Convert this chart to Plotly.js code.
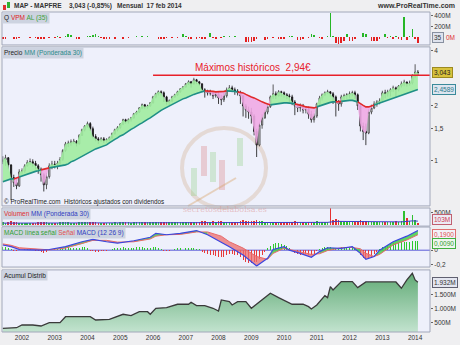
<!DOCTYPE html>
<html><head><meta charset="utf-8">
<script src="https://cdn.plot.ly/plotly-3.0.1.min.js"></script>
<style>html,body{margin:0;padding:0;background:#efeff1;}#chart{width:460px;height:345px;}</style>
</head><body><div id="chart"></div>
<script>
// ---------- DATA (monthly, June 2001 .. February 2014) ----------
const START_YEAR = 2001, START_MONTH = 6;
const firstOpen = 0.99;
const close = [
  1.01,1.04,0.95,0.81,0.76,0.73,0.87,
  0.88,0.94,0.98,0.99,0.97,0.94,0.90,0.84,0.74,0.82,0.94,0.96,
  0.95,0.97,1.02,1.14,1.24,1.25,1.27,1.28,1.24,1.38,1.48,1.55,
  1.60,1.50,1.36,1.32,1.29,1.32,1.29,1.31,1.34,1.41,1.48,1.52,
  1.59,1.68,1.64,1.68,1.72,1.81,1.85,1.95,2.03,1.98,2.00,2.08,
  2.24,2.33,2.39,2.36,2.24,2.10,2.13,2.24,2.30,2.39,2.48,2.54,
  2.64,2.71,2.64,2.78,2.71,2.64,2.45,2.39,2.36,2.36,2.27,2.33,
  2.21,2.16,2.27,2.45,2.51,2.45,2.41,2.36,2.27,2.00,1.90,1.85,
  1.76,1.45,1.22,1.57,1.72,1.85,1.98,2.24,2.33,2.27,2.39,2.36,
  2.30,2.27,2.24,2.10,2.00,1.95,1.98,1.90,1.92,1.80,1.68,1.76,
  2.05,2.21,2.30,2.36,2.39,2.33,2.24,2.10,2.05,2.24,2.27,2.30,
  2.33,2.36,2.30,2.00,1.55,1.45,1.42,1.85,1.95,2.05,2.10,2.13,
  2.36,2.33,2.39,2.45,2.51,2.45,2.57,2.64,2.70,2.64,2.67,2.92,
  3.06,3.043
];
const high = [
  1.06,1.08,1.05,0.96,0.84,0.80,0.90,
  0.91,0.96,1.01,1.03,1.02,1.00,0.96,0.92,0.86,0.86,0.97,1.00,
  1.00,1.00,1.05,1.16,1.27,1.29,1.31,1.32,1.30,1.40,1.50,1.57,
  1.64,1.63,1.54,1.40,1.35,1.35,1.35,1.33,1.36,1.43,1.50,1.55,
  1.61,1.70,1.70,1.71,1.74,1.83,1.88,1.97,2.06,2.05,2.03,2.10,
  2.27,2.36,2.43,2.43,2.40,2.27,2.17,2.27,2.33,2.42,2.50,2.57,
  2.67,2.76,2.74,2.85,2.81,2.74,2.66,2.50,2.45,2.45,2.40,2.38,
  2.40,2.30,2.36,2.52,2.60,2.58,2.52,2.47,2.42,2.30,2.05,1.98,
  1.95,1.80,1.50,1.62,1.80,1.90,2.05,2.28,2.62,2.40,2.44,2.42,
  2.40,2.35,2.33,2.30,2.15,2.05,2.06,2.05,1.99,1.98,1.88,1.82,
  2.08,2.27,2.34,2.40,2.45,2.41,2.38,2.28,2.15,2.30,2.33,2.35,
  2.40,2.42,2.42,2.34,2.05,1.62,1.60,1.92,2.03,2.12,2.15,2.20,
  2.42,2.45,2.45,2.50,2.58,2.55,2.60,2.72,2.78,2.72,2.75,2.98,
  3.38,3.14
];
const low = [
  0.96,0.94,0.90,0.61,0.72,0.70,0.72,
  0.84,0.86,0.93,0.95,0.93,0.90,0.85,0.77,0.68,0.70,0.80,0.90,
  0.91,0.90,0.94,1.00,1.12,1.19,1.21,1.24,1.20,1.23,1.37,1.45,
  1.52,1.46,1.33,1.28,1.24,1.27,1.25,1.26,1.28,1.32,1.39,1.45,
  1.50,1.57,1.60,1.60,1.64,1.70,1.78,1.83,1.92,1.92,1.93,1.98,
  2.06,2.20,2.28,2.28,2.10,2.03,2.02,2.10,2.21,2.27,2.36,2.44,
  2.52,2.60,2.52,2.62,2.63,2.58,2.40,2.22,2.28,2.28,2.18,2.22,
  2.05,2.02,2.10,2.22,2.40,2.38,2.30,2.28,2.05,1.75,1.72,1.70,
  1.60,1.38,1.05,1.20,1.50,1.70,1.80,1.95,2.18,2.18,2.25,2.25,
  2.22,2.18,2.10,2.02,1.78,1.85,1.86,1.82,1.82,1.70,1.62,1.62,
  1.72,2.02,2.14,2.26,2.32,2.25,2.05,1.75,1.88,1.98,2.12,2.18,
  2.20,2.26,2.18,1.90,1.45,1.30,1.22,1.40,1.80,1.92,1.98,2.04,
  2.10,2.20,2.25,2.25,2.38,2.22,2.40,2.52,2.56,2.55,2.58,2.62,
  2.85,2.95
];
const maWeighted30 = [
  0.768,0.777,0.787,0.797,0.797,0.807,0.817,
  0.828,0.838,0.849,0.860,0.871,0.876,0.882,0.893,0.898,0.904,0.916,0.921,
  0.927,0.933,0.939,0.945,0.951,0.963,0.988,1.000,1.019,1.039,1.065,1.085,
  1.106,1.127,1.149,1.163,1.178,1.193,1.208,1.223,1.255,1.287,1.312,1.336,
  1.370,1.388,1.423,1.459,1.487,1.516,1.554,1.584,1.614,1.655,1.687,1.719,
  1.763,1.808,1.854,1.889,1.926,1.963,2.000,2.025,2.064,2.104,2.144,2.185,
  2.212,2.254,2.283,2.312,2.341,2.371,2.401,2.416,2.416,2.416,2.401,2.386,
  2.386,2.386,2.401,2.416,2.416,2.416,2.401,2.386,2.371,2.356,2.312,2.269,
  2.240,2.212,2.172,2.130,2.104,2.077,2.051,2.025,2.038,2.051,2.051,2.064,
  2.077,2.077,2.077,2.064,2.051,2.038,2.025,2.000,1.975,1.963,1.950,1.950,
  1.975,2.000,2.025,2.051,2.077,2.090,2.104,2.104,2.104,2.117,2.130,2.130,
  2.144,2.144,2.130,2.104,2.051,2.013,1.975,1.975,2.000,2.025,2.051,2.077,
  2.104,2.130,2.157,2.185,2.212,2.240,2.269,2.297,2.327,2.356,2.386,2.410,
  2.430,2.4589
];
const vpm = [ // millions
  -30,-20,15,10,-25,-20,-15,
  10,5,10,-15,15,-10,-30,-35,-30,10,-10,15,
  -15,20,-10,15,20,55,40,10,-25,-30,10,15,
  25,20,45,55,30,-10,-30,-35,-25,10,-20,15,
  15,-20,10,-15,10,15,20,15,20,15,20,15,
  15,10,-20,-25,-20,-15,10,-10,15,-10,10,70,
  30,-20,-25,10,-20,-15,-30,-25,15,85,-10,-30,
  15,-15,20,15,20,15,20,15,10,10,-80,-90,
  -85,-70,-20,15,10,-45,-35,15,-15,10,-30,-25,
  -20,10,20,20,15,-45,-40,-20,10,-15,55,45,
  10,-15,-20,15,20,450,20,-110,-125,-110,-60,60,
  -70,-75,-30,10,15,75,60,15,-75,-70,-60,-30,
  15,60,-15,25,-20,25,-20,-40,380,-40,20,150,
  -20,-110
];
const volume = [ // millions
  110,100,120,160,120,110,100,
  90,95,100,90,95,100,110,120,140,120,100,90,
  100,95,110,120,130,110,100,90,100,110,120,115,
  120,110,130,110,100,95,90,85,95,100,105,100,
  110,115,105,110,100,115,110,120,125,110,105,110,
  130,125,120,110,140,130,110,105,110,115,120,125,
  140,130,135,125,130,120,150,160,130,120,150,130,
  170,150,140,130,140,120,130,110,150,200,170,150,
  160,170,190,170,150,140,130,120,130,120,110,115,
  120,110,115,140,170,130,120,110,100,115,140,120,
  150,140,120,110,120,730,200,230,190,150,130,140,
  160,140,130,160,220,180,170,150,140,120,120,110,
  140,130,120,140,130,150,140,160,570,280,170,400,
  200,103
];
const volMaDates = ['2001-06','2004-01','2007-01','2009-01','2011-05','2011-08','2012-06','2013-08','2013-12','2014-02'];
const volMa = [80,85,100,115,110,150,140,130,170,160];
const macdHist = [
  0.003,0.003,0.002,0.001,-0.001,-0.001,0.001,
  0.001,0.001,0.001,0.001,0.0005,-0.0005,-0.001,-0.002,-0.0025,-0.0015,0.0005,0.001,
  0.001,0.0015,0.002,0.0025,0.003,0.003,0.0025,0.0025,0.002,0.0025,0.003,0.003,
  0.002,-0.0005,-0.001,-0.0015,-0.0015,-0.001,-0.001,-0.0005,0.0005,0.0015,0.002,0.0025,
  0.0025,0.003,0.0025,0.0025,0.0025,0.0025,0.003,0.003,0.003,0.0025,0.002,0.0025,
  0.003,0.003,0.0025,0.0015,-0.0005,-0.001,-0.0005,0.0005,0.0015,0.002,0.0025,0.0025,
  0.0025,0.0025,0.002,0.002,0.0015,0.001,-0.0015,-0.003,-0.004,-0.0045,-0.005,-0.0055,
  -0.006,-0.0065,-0.006,-0.005,-0.004,-0.004,-0.0045,-0.005,-0.006,-0.009,-0.011,-0.012,
  -0.012,-0.0115,-0.011,-0.008,-0.005,-0.002,0.002,0.004,0.006,0.007,0.0065,0.006,
  0.005,0.004,0.0025,-0.001,-0.003,-0.004,-0.0045,-0.0045,-0.004,-0.0045,-0.005,-0.004,
  -0.001,0.0015,0.0025,0.003,0.0035,0.003,0.0025,0.002,0.0025,0.003,0.003,0.003,
  0.003,0.003,0.0025,-0.001,-0.005,-0.007,-0.0085,-0.008,-0.006,-0.004,-0.002,0.001,
  0.003,0.004,0.005,0.006,0.0065,0.007,0.007,0.0075,0.0075,0.008,0.008,0.0085,
  0.009,0.009
];
const macdDates = ['2001-06','2001-09','2001-12','2002-08','2002-11','2003-05','2003-11','2004-03','2004-08','2004-12',
  '2005-06','2005-12','2006-02','2006-06','2006-11','2007-05','2007-09','2008-02','2008-05','2008-10',
  '2009-03','2009-07','2009-09','2010-01','2010-03','2010-07','2010-11','2011-02','2011-05','2011-10',
  '2012-02','2012-05','2012-07','2012-10','2012-12','2013-05','2013-10','2014-02'];
const macdLine = [0.074,0.05,0.01,0.0,0.01,0.05,0.12,0.155,0.12,0.10,
  0.135,0.185,0.24,0.22,0.24,0.28,0.22,0.12,0.05,-0.07,
  -0.225,-0.115,0.01,0.05,0.0,-0.045,-0.10,-0.02,0.035,0.027,
  0.05,-0.045,-0.13,-0.09,0.0,0.12,0.2,0.28];
const signalLine = [0.09,0.07,0.035,0.01,0.005,0.03,0.09,0.14,0.14,0.115,
  0.12,0.16,0.2,0.22,0.225,0.26,0.26,0.2,0.12,0.03,
  -0.09,-0.13,-0.045,0.027,0.01,-0.02,-0.06,-0.05,-0.005,0.035,
  0.04,0.02,-0.045,-0.09,-0.06,0.075,0.145,0.22];
const adDates = ['2001-06','2001-09','2001-11','2002-01','2002-05','2002-08','2002-11','2003-03','2003-05','2004-02',
  '2004-04','2004-09','2005-02','2005-05','2005-08','2005-11','2005-12','2006-02','2006-06','2006-10',
  '2007-02','2007-03','2007-05','2007-08','2007-11','2008-01','2008-02','2008-05','2008-06','2008-08',
  '2008-11','2009-01','2009-05','2009-06','2009-08','2009-11','2010-04','2010-08','2010-10','2010-11',
  '2011-01','2011-04','2011-05','2011-06','2011-07','2011-10','2012-02','2012-04','2012-07','2013-06',
  '2013-08','2013-10','2013-12','2014-01','2014-02'];
const adValues = [286,286,307,404,404,368,486,486,700,700,
  582,607,786,736,879,879,786,1000,1021,1143,
  1143,1214,1093,1093,1000,904,1296,1236,1118,1236,
  1236,1000,1296,1357,1536,1379,1143,1143,1057,975,
  1118,1450,1380,1771,1654,1950,1950,1736,1939,1939,
  1714,2011,2250,2011,1932];
const recordHigh = 2.94, recordFrom = '2006-01-01';
const X_RANGE = ['2001-05-23', '2014-06-16'];

// ---------- BUILD ----------
const months = close.map((_, i) => {
  const m = START_MONTH - 1 + i;
  return (START_YEAR + Math.floor(m / 12)) + '-' + String(m % 12 + 1).padStart(2, '0') + '-01';
});
const open = close.map((c, i) => i === 0 ? firstOpen : close[i - 1]);
const hi = high.map((h, i) => Math.max(h, open[i], close[i]));
const lo = low.map((l, i) => Math.min(l, open[i], close[i]));
const upMonth = close.map((c, i) => c >= open[i]);

const PX = x => (x - 2) / 428;
const PY = y => 1 - (y - 12) / 320;
const DAY = 86400000;

function bands(x, a, b, yaxis, upFill, downFill) {
  const out = []; const n = x.length; let s = 0;
  const up = i => a[i] >= b[i];
  for (let i = 1; i <= n; i++) {
    if (i === n || up(i) !== up(s)) {
      const e = Math.min(i, n - 1);
      const xs = x.slice(s, e + 1);
      out.push({type:'scatter', x: xs, y: b.slice(s, e + 1), yaxis, mode:'lines', line:{width:0, color:'rgba(0,0,0,0)'}, hoverinfo:'skip'});
      out.push({type:'scatter', x: xs, y: a.slice(s, e + 1), yaxis, mode:'lines', line:{width:0, color:'rgba(0,0,0,0)'}, fill:'tonexty', fillcolor: up(s) ? upFill : downFill, hoverinfo:'skip'});
      s = i;
    }
  }
  return out;
}
function coloredLine(x, a, b, yaxis, upColor, downColor, width) {
  const out = []; const n = x.length; let s = 0;
  const up = i => a[i] >= b[i];
  for (let i = 1; i <= n; i++) {
    if (i === n || up(i) !== up(s)) {
      const e = Math.min(i, n - 1);
      out.push({type:'scatter', x: x.slice(s, e + 1), y: b.slice(s, e + 1), yaxis, mode:'lines', line:{width, color: up(s) ? upColor : downColor}, hoverinfo:'skip'});
      s = i;
    }
  }
  return out;
}

const traces = [];
// VPM
traces.push({type:'bar', x: months, y: vpm, yaxis:'y', width: 18 * DAY,
  marker:{color: vpm.map(v => v >= 0 ? '#26b626' : '#e42020'), line:{width:0}}});
// Price
traces.push(...bands(months, close, maWeighted30, 'y2', 'rgba(160,236,160,0.9)', 'rgba(240,170,228,0.9)'));
traces.push({type:'scatter', x:[recordFrom, X_RANGE[1]], y:[recordHigh, recordHigh], yaxis:'y2', mode:'lines', line:{color:'#e8202a', width:1.5}});
traces.push({type:'candlestick', x: months, open, high: hi, low: lo, close, yaxis:'y2', whiskerwidth:0,
  increasing:{line:{color:'#333333', width:0.8}, fillcolor:'#ffffff'},
  decreasing:{line:{color:'#111111', width:0.8}, fillcolor:'#111111'}});
traces.push(...coloredLine(months, close, maWeighted30, 'y2', '#1f8f86', '#e02a2a', 1.6));
// Volume
traces.push({type:'bar', x: months, y: volume, yaxis:'y3', width: 18 * DAY,
  marker:{color: upMonth.map(u => u ? '#30c030' : '#e43030'), line:{width:0}}});
traces.push({type:'scatter', x: volMaDates, y: volMa, yaxis:'y3', mode:'lines', line:{color:'#3c3ccc', width:1}});
// MACD
traces.push({type:'bar', x: months, y: macdHist, yaxis:'y4', width: 11 * DAY,
  marker:{color: macdHist.map(v => v >= 0 ? '#2ec82e' : '#e83a3a'), line:{width:0}}});
traces.push(...bands(macdDates, macdLine, signalLine, 'y5', 'rgba(70,205,70,0.85)', 'rgba(236,110,110,0.75)'));
traces.push({type:'scatter', x: macdDates, y: signalLine, yaxis:'y5', mode:'lines', line:{color:'#e86a6a', width:1}});
traces.push({type:'scatter', x: macdDates, y: macdLine, yaxis:'y5', mode:'lines', line:{color:'#3c46e0', width:1.2}});
// Acumulación / Distribución
traces.push({type:'scatter', x: adDates, y: adValues, yaxis:'y6', mode:'lines', line:{color:'#3a3a3a', width:1.3},
  fill:'tozeroy', fillcolor:'rgba(120,190,140,0.8)',
  fillgradient:{type:'vertical', start:154, stop:2250, colorscale:[[0,'#c2e3cf'],[1,'#62ab76']]}});

const yc = {showgrid:false, zeroline:false, side:'right', anchor:'x', ticks:'outside', ticklen:2,
  tickcolor:'#666', tickfont:{size:6.5, color:'#333'}, showline:false, fixedrange:true};
const doms = {vpm:[0.897,1], price:[0.394,0.891], vol:[0.331,0.3875], macd:[0.203,0.328], ad:[0,0.194]};

const shapes = [];
Object.values(doms).forEach(d => shapes.push({type:'rect', xref:'paper', yref:'paper', x0:0, x1:1, y0:d[0], y1:d[1],
  line:{color:'#a2a8ba', width:1}, fillcolor:'rgba(0,0,0,0)', layer:'above'}));
shapes.push({type:'line', xref:'paper', yref:'y5', x0:0, x1:1, y0:0, y1:0, line:{color:'#5a5ad8', width:1}, layer:'below'});
// faint watermark logo
shapes.push({type:'circle', xref:'paper', yref:'paper', x0:PX(182), x1:PX(266), y0:PY(208), y1:PY(128), line:{color:'rgba(205,165,125,0.30)', width:4}, layer:'below'});
[[191,197,168,196,'rgba(150,210,140,0.35)'],[201,207,146,176,'rgba(215,120,120,0.30)'],[210,216,152,182,'rgba(150,210,140,0.35)'],
 [219,225,160,190,'rgba(215,120,120,0.30)'],[237,243,138,166,'rgba(150,210,140,0.35)']].forEach(r =>
  shapes.push({type:'rect', xref:'paper', yref:'paper', x0:PX(r[0]), x1:PX(r[1]), y0:PY(r[3]), y1:PY(r[2]), fillcolor:r[4], line:{width:0}, layer:'below'}));
shapes.push({type:'line', xref:'paper', yref:'paper', x0:PX(188), x1:PX(236), y0:PY(206), y1:PY(178), line:{color:'rgba(215,160,100,0.40)', width:2}, layer:'below'});
// small candle icon in the header
shapes.push({type:'rect', xref:'paper', yref:'paper', x0:PX(3), x1:PX(6), y0:PY(10), y1:PY(5), fillcolor:'#e03030', line:{width:0}});
shapes.push({type:'rect', xref:'paper', yref:'paper', x0:PX(7), x1:PX(10), y0:PY(8), y1:PY(2), fillcolor:'#30b030', line:{width:0}});

const lab = (y, text) => ({xref:'paper', yref:'paper', x:0, y, xanchor:'left', yanchor:'top', text, showarrow:false,
  bgcolor:'#cdd3e0', borderpad:1, font:{size:6.5, color:'#222'}});
const box = (yref, y, text, bg, border, color, yshift) => ({xref:'paper', yref, x:1, y, xanchor:'left', yanchor:'middle', xshift:2, yshift: yshift || 0,
  text, showarrow:false, bgcolor:bg, bordercolor:border, borderwidth:1, borderpad:1, font:{size:6.5, color}});
const annotations = [
  {xref:'paper', yref:'paper', x:PX(12), y:PY(6), xanchor:'left', yanchor:'middle', showarrow:false, text:'<b>MAP - MAPFRE</b>', font:{size:6.5, color:'#333'}},
  {xref:'paper', yref:'paper', x:PX(67), y:PY(6), xanchor:'left', yanchor:'middle', showarrow:false, text:'<b>3,043 (-0,85%)</b>', font:{size:6.5, color:'#333'}},
  {xref:'paper', yref:'paper', x:PX(115), y:PY(6), xanchor:'left', yanchor:'middle', showarrow:false, text:'<b>Mensual\u00a0 17 feb 2014</b>', font:{size:6.5, color:'#333'}},
  {xref:'paper', yref:'paper', x:PX(457), y:PY(6), xanchor:'right', yanchor:'middle', showarrow:false, text:'<b>www.ProRealTime.com</b>', font:{size:7, color:'#333'}},
  lab(doms.vpm[1], 'Q <span style="color:#e02020">VPM</span> <span style="color:#3aa03a">AL (35)</span>'),
  lab(doms.price[1], 'Precio <span style="color:#2a8a8a">MM (Ponderada 30)</span>'),
  lab(doms.vol[1], '<span style="color:#e03030">Volumen</span> <span style="color:#3040c0">MM (Ponderada 30)</span>'),
  lab(doms.macd[1], '<span style="color:#30a030">MACD línea señal</span> <span style="color:#e05050">Señal</span> <span style="color:#3040c0">MACD (12 26 9)</span>'),
  lab(doms.ad[1], 'Acumul Distrib'),
  {xref:'paper', yref:'paper', x:0, y:PY(202), xanchor:'left', yanchor:'middle', showarrow:false,
    text:'© ProRealTime.com\u00a0 Históricos ajustados con dividendos', font:{size:6.3, color:'#222'}},
  {xref:'paper', yref:'paper', x:PX(225), y:PY(209), xanchor:'center', yanchor:'middle', showarrow:false,
    text:'secretosdelabolsa.es', font:{family:'DejaVu Serif, serif', size:8, color:'rgba(220,150,150,0.55)'}},
  {xref:'x', yref:'y2', x:'2009-01-20', y:Math.log10(recordHigh), xanchor:'center', yanchor:'bottom', yshift:0, showarrow:false,
    text:'Máximos históricos\u00a0 2,94€', font:{size:10, color:'#e8202a'}},
  box('y2', Math.log10(close[close.length - 1]), '3,043', '#d8c23c', '#9c8a20', '#222'),
  box('y2', Math.log10(maWeighted30[maWeighted30.length - 1]), '2,4589', '#dde5ef', '#3a8a9a', '#2a7a8a'),
  box('y', 0, '35', '#dfe3ee', '#8890a0', '#333'),
  {xref:'paper', yref:'y', x:1, y:0, xanchor:'left', yanchor:'middle', xshift:14, showarrow:false, text:'0M', font:{size:6.5, color:'#e03030'}},
  box('paper', PY(219), '103M', '#ecebf4', '#c06070', '#d04050'),
  box('paper', PY(234), '0,1900', '#f2f2f8', '#e07070', '#e05050'),
  box('paper', PY(243), '0,0090', '#eef6ee', '#40b040', '#30a030'),
  box('y6', 1932, '1.932M', '#e4e6f0', '#606070', '#333')
];

const layout = {
  width:460, height:345, margin:{l:2, r:30, t:12, b:13},
  paper_bgcolor:'#efeff1', plot_bgcolor:'#eef0fb', showlegend:false, bargap:0,
  font:{family:'Liberation Sans, Arial, sans-serif', size:7, color:'#333'},
  xaxis:{type:'date', range:X_RANGE, anchor:'y6', domain:[0,1], showgrid:false, zeroline:false,
    tickformat:'%Y', dtick:'M12', tick0:'2002-01-01', ticks:'', tickfont:{size:6.5, color:'#333'},
    rangeslider:{visible:false}, fixedrange:true},
  yaxis: Object.assign({}, yc, {domain:doms.vpm, range:[-140,474], tickvals:[200,400], ticktext:['200M','400M']}),
  yaxis2: Object.assign({}, yc, {domain:doms.price, type:'log', range:[-0.2465,0.624], tickvals:[1,1.5,2,4], ticktext:['1','1,5','2','4']}),
  yaxis3: Object.assign({}, yc, {domain:doms.vol, range:[-40,691], tickvals:[500], ticktext:['500M']}),
  yaxis4: Object.assign({}, yc, {domain:doms.macd, range:[-0.016,0.022], showticklabels:false, ticks:''}),
  yaxis5: Object.assign({}, yc, {overlaying:'y4', range:[-0.24,0.33], tickvals:[0,-0.2], ticktext:['0','-0,2']}),
  yaxis6: Object.assign({}, yc, {domain:doms.ad, range:[154,2368], tickvals:[500,1000,1500], ticktext:['500M','1.000M','1.500M']}),
  shapes, annotations
};
Plotly.newPlot('chart', traces, layout, {staticPlot:true, displayModeBar:false});
</script></body></html>
